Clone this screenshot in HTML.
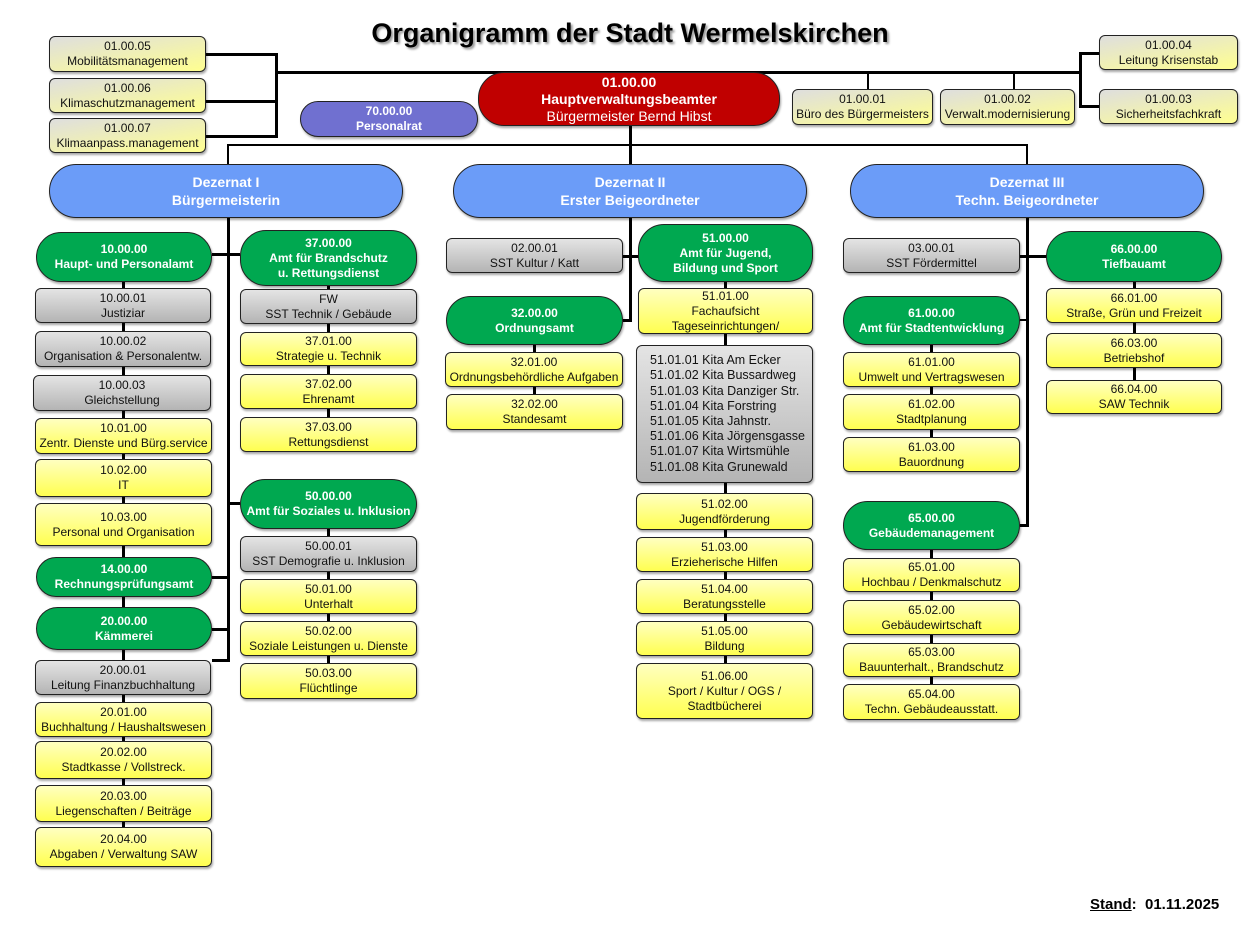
<!DOCTYPE html>
<html><head><meta charset="utf-8"><style>
body{margin:0;width:1260px;height:945px;background:#fff;position:relative;overflow:hidden;font-family:"Liberation Sans",sans-serif}
.b{position:absolute;box-sizing:border-box;border:1.5px solid #222;border-radius:6px;display:flex;flex-direction:column;justify-content:center;align-items:center;text-align:center;font-size:12px;line-height:15px;color:#111;box-shadow:1px 2px 2px rgba(0,0,0,.35);white-space:nowrap;overflow:hidden}
.y{background:linear-gradient(#ffffc0,#ffff50)}
.g{background:linear-gradient(#e4e4e4,#b4b4b4)}
.t{background:linear-gradient(170deg,#dedede,#ffff90)}
.gr{background:#00a850;color:#fff;font-weight:bold;border-radius:26px;font-size:12px}
.bl{background:#6b9cf8;color:#fff;font-weight:bold;border-radius:28px;font-size:14px;line-height:18px}
.l{position:absolute;background:#000}
</style></head><body>
<div style="position:absolute;left:0;width:1260px;top:18px;text-align:center;font-weight:bold;font-size:27px;text-shadow:2px 2px 2px #999">Organigramm der Stadt Wermelskirchen</div>

<!-- lines -->
<div class="l" style="left:205px;top:53px;width:72px;height:3px"></div>
<div class="l" style="left:205px;top:100px;width:72px;height:3px"></div>
<div class="l" style="left:205px;top:135px;width:72px;height:3px"></div>
<div class="l" style="left:275px;top:53px;width:3px;height:85px"></div>
<div class="l" style="left:276px;top:71px;width:806px;height:3px"></div>
<div class="l" style="left:1079px;top:52px;width:3px;height:56px"></div>
<div class="l" style="left:1079px;top:52px;width:20px;height:3px"></div>
<div class="l" style="left:1079px;top:105px;width:20px;height:3px"></div>
<div class="l" style="left:867px;top:72px;width:2px;height:18px"></div>
<div class="l" style="left:1013px;top:72px;width:2px;height:18px"></div>
<div class="l" style="left:629px;top:120px;width:3px;height:46px"></div>
<div class="l" style="left:227px;top:144px;width:801px;height:2px"></div>
<div class="l" style="left:227px;top:144px;width:2px;height:22px"></div>
<div class="l" style="left:1026px;top:144px;width:2px;height:22px"></div>
<!-- Dez I -->
<div class="l" style="left:227px;top:216px;width:3px;height:446px"></div>
<div class="l" style="left:212px;top:253px;width:28px;height:3px"></div>
<div class="l" style="left:228px;top:502px;width:12px;height:3px"></div>
<div class="l" style="left:212px;top:576px;width:16px;height:3px"></div>
<div class="l" style="left:212px;top:628px;width:16px;height:3px"></div>
<div class="l" style="left:212px;top:659px;width:16px;height:3px"></div>
<div class="l" style="left:122px;top:280px;width:3px;height:560px"></div>
<div class="l" style="left:327px;top:280px;width:3px;height:160px"></div>
<div class="l" style="left:327px;top:525px;width:3px;height:160px"></div>
<!-- Dez II -->
<div class="l" style="left:629px;top:216px;width:3px;height:106px"></div>
<div class="l" style="left:623px;top:255px;width:16px;height:3px"></div>
<div class="l" style="left:623px;top:319px;width:8px;height:3px"></div>
<div class="l" style="left:533px;top:340px;width:3px;height:70px"></div>
<div class="l" style="left:724px;top:280px;width:3px;height:420px"></div>
<!-- Dez III -->
<div class="l" style="left:1026px;top:216px;width:3px;height:311px"></div>
<div class="l" style="left:1020px;top:255px;width:27px;height:3px"></div>
<div class="l" style="left:1020px;top:319px;width:8px;height:2px"></div>
<div class="l" style="left:1020px;top:524px;width:8px;height:3px"></div>
<div class="l" style="left:930px;top:340px;width:3px;height:115px"></div>
<div class="l" style="left:930px;top:545px;width:3px;height:160px"></div>
<div class="l" style="left:1133px;top:280px;width:3px;height:120px"></div>

<!-- top boxes -->
<div class="b t" style="left:49px;top:36px;width:157px;height:36px">01.00.05<br>Mobilitätsmanagement</div>
<div class="b t" style="left:49px;top:78px;width:157px;height:35px">01.00.06<br>Klimaschutzmanagement</div>
<div class="b t" style="left:49px;top:118px;width:157px;height:35px">01.00.07<br>Klimaanpass.management</div>
<div class="b" style="left:300px;top:101px;width:178px;height:36px;border-radius:18px;background:#7070d0;color:#fff;font-weight:bold">70.00.00<br>Personalrat</div>
<div class="b" style="left:478px;top:72px;width:302px;height:54px;border-radius:26px;background:#c00000;color:#fff;font-size:14px;line-height:17px"><b>01.00.00</b><b>Hauptverwaltungsbeamter</b>Bürgermeister Bernd Hibst</div>
<div class="b t" style="left:792px;top:89px;width:141px;height:36px">01.00.01<br>Büro des Bürgermeisters</div>
<div class="b t" style="left:940px;top:89px;width:135px;height:36px">01.00.02<br>Verwalt.modernisierung</div>
<div class="b t" style="left:1099px;top:35px;width:139px;height:35px">01.00.04<br>Leitung Krisenstab</div>
<div class="b t" style="left:1099px;top:89px;width:139px;height:35px">01.00.03<br>Sicherheitsfachkraft</div>

<div class="b bl" style="left:49px;top:164px;width:354px;height:54px">Dezernat I<br>Bürgermeisterin</div>
<div class="b bl" style="left:453px;top:164px;width:354px;height:54px">Dezernat II<br>Erster Beigeordneter</div>
<div class="b bl" style="left:850px;top:164px;width:354px;height:54px">Dezernat III<br>Techn. Beigeordneter</div>

<!-- Dez I col -->
<div class="b gr" style="left:36px;top:232px;width:176px;height:50px">10.00.00<br>Haupt- und Personalamt</div>
<div class="b g" style="left:35px;top:288px;width:176px;height:35px">10.00.01<br>Justiziar</div>
<div class="b g" style="left:35px;top:331px;width:176px;height:36px">10.00.02<br>Organisation &amp; Personalentw.</div>
<div class="b g" style="left:33px;top:375px;width:178px;height:36px">10.00.03<br>Gleichstellung</div>
<div class="b y" style="left:35px;top:418px;width:177px;height:36px">10.01.00<br>Zentr. Dienste und Bürg.service</div>
<div class="b y" style="left:35px;top:459px;width:177px;height:38px">10.02.00<br>IT</div>
<div class="b y" style="left:35px;top:503px;width:177px;height:43px">10.03.00<br>Personal und Organisation</div>
<div class="b gr" style="left:36px;top:557px;width:176px;height:40px">14.00.00<br>Rechnungsprüfungsamt</div>
<div class="b gr" style="left:36px;top:607px;width:176px;height:43px">20.00.00<br>Kämmerei</div>
<div class="b g" style="left:35px;top:660px;width:176px;height:35px">20.00.01<br>Leitung Finanzbuchhaltung</div>
<div class="b y" style="left:35px;top:702px;width:177px;height:35px">20.01.00<br>Buchhaltung / Haushaltswesen</div>
<div class="b y" style="left:35px;top:741px;width:177px;height:38px">20.02.00<br>Stadtkasse / Vollstreck.</div>
<div class="b y" style="left:35px;top:785px;width:177px;height:37px">20.03.00<br>Liegenschaften / Beiträge</div>
<div class="b y" style="left:35px;top:827px;width:177px;height:40px">20.04.00<br>Abgaben / Verwaltung SAW</div>

<div class="b gr" style="left:240px;top:230px;width:177px;height:56px">37.00.00<br>Amt für Brandschutz<br>u. Rettungsdienst</div>
<div class="b g" style="left:240px;top:289px;width:177px;height:35px">FW<br>SST Technik / Gebäude</div>
<div class="b y" style="left:240px;top:332px;width:177px;height:34px">37.01.00<br>Strategie u. Technik</div>
<div class="b y" style="left:240px;top:374px;width:177px;height:35px">37.02.00<br>Ehrenamt</div>
<div class="b y" style="left:240px;top:417px;width:177px;height:35px">37.03.00<br>Rettungsdienst</div>
<div class="b gr" style="left:240px;top:479px;width:177px;height:50px">50.00.00<br>Amt für Soziales u. Inklusion</div>
<div class="b g" style="left:240px;top:536px;width:177px;height:36px">50.00.01<br>SST Demografie u. Inklusion</div>
<div class="b y" style="left:240px;top:579px;width:177px;height:35px">50.01.00<br>Unterhalt</div>
<div class="b y" style="left:240px;top:621px;width:177px;height:35px">50.02.00<br>Soziale Leistungen u. Dienste</div>
<div class="b y" style="left:240px;top:663px;width:177px;height:36px">50.03.00<br>Flüchtlinge</div>

<!-- Dez II col -->
<div class="b g" style="left:446px;top:238px;width:177px;height:35px">02.00.01<br>SST Kultur / Katt</div>
<div class="b gr" style="left:446px;top:296px;width:177px;height:49px">32.00.00<br>Ordnungsamt</div>
<div class="b y" style="left:445px;top:352px;width:178px;height:35px">32.01.00<br>Ordnungsbehördliche Aufgaben</div>
<div class="b y" style="left:446px;top:394px;width:177px;height:36px">32.02.00<br>Standesamt</div>
<div class="b gr" style="left:638px;top:224px;width:175px;height:58px">51.00.00<br>Amt für Jugend,<br>Bildung und Sport</div>
<div class="b y" style="left:638px;top:288px;width:175px;height:46px">51.01.00<br>Fachaufsicht<br>Tageseinrichtungen/</div>
<div class="b g" style="left:636px;top:345px;width:177px;height:138px;align-items:flex-start;text-align:left;padding-left:13px;font-size:12.5px;line-height:15.2px">51.01.01 Kita Am Ecker<br>51.01.02 Kita Bussardweg<br>51.01.03 Kita Danziger Str.<br>51.01.04 Kita Forstring<br>51.01.05 Kita Jahnstr.<br>51.01.06 Kita Jörgensgasse<br>51.01.07 Kita Wirtsmühle<br>51.01.08 Kita Grunewald</div>
<div class="b y" style="left:636px;top:493px;width:177px;height:37px">51.02.00<br>Jugendförderung</div>
<div class="b y" style="left:636px;top:537px;width:177px;height:35px">51.03.00<br>Erzieherische Hilfen</div>
<div class="b y" style="left:636px;top:579px;width:177px;height:35px">51.04.00<br>Beratungsstelle</div>
<div class="b y" style="left:636px;top:621px;width:177px;height:35px">51.05.00<br>Bildung</div>
<div class="b y" style="left:636px;top:663px;width:177px;height:56px">51.06.00<br>Sport / Kultur / OGS /<br>Stadtbücherei</div>

<!-- Dez III col -->
<div class="b g" style="left:843px;top:238px;width:177px;height:35px">03.00.01<br>SST Fördermittel</div>
<div class="b gr" style="left:843px;top:296px;width:177px;height:49px">61.00.00<br>Amt für Stadtentwicklung</div>
<div class="b y" style="left:843px;top:352px;width:177px;height:35px">61.01.00<br>Umwelt und Vertragswesen</div>
<div class="b y" style="left:843px;top:394px;width:177px;height:36px">61.02.00<br>Stadtplanung</div>
<div class="b y" style="left:843px;top:437px;width:177px;height:35px">61.03.00<br>Bauordnung</div>
<div class="b gr" style="left:843px;top:501px;width:177px;height:49px">65.00.00<br>Gebäudemanagement</div>
<div class="b y" style="left:843px;top:558px;width:177px;height:34px">65.01.00<br>Hochbau / Denkmalschutz</div>
<div class="b y" style="left:843px;top:600px;width:177px;height:35px">65.02.00<br>Gebäudewirtschaft</div>
<div class="b y" style="left:843px;top:643px;width:177px;height:34px">65.03.00<br>Bauunterhalt., Brandschutz</div>
<div class="b y" style="left:843px;top:684px;width:177px;height:36px">65.04.00<br>Techn. Gebäudeausstatt.</div>
<div class="b gr" style="left:1046px;top:231px;width:176px;height:51px">66.00.00<br>Tiefbauamt</div>
<div class="b y" style="left:1046px;top:288px;width:176px;height:35px">66.01.00<br>Straße, Grün und Freizeit</div>
<div class="b y" style="left:1046px;top:333px;width:176px;height:35px">66.03.00<br>Betriebshof</div>
<div class="b y" style="left:1046px;top:380px;width:176px;height:34px">66.04.00<br>SAW Technik</div>

<div style="position:absolute;left:1090px;top:896px;font-weight:bold;font-size:15px"><u>Stand</u>:&nbsp; 01.11.2025</div>
</body></html>
